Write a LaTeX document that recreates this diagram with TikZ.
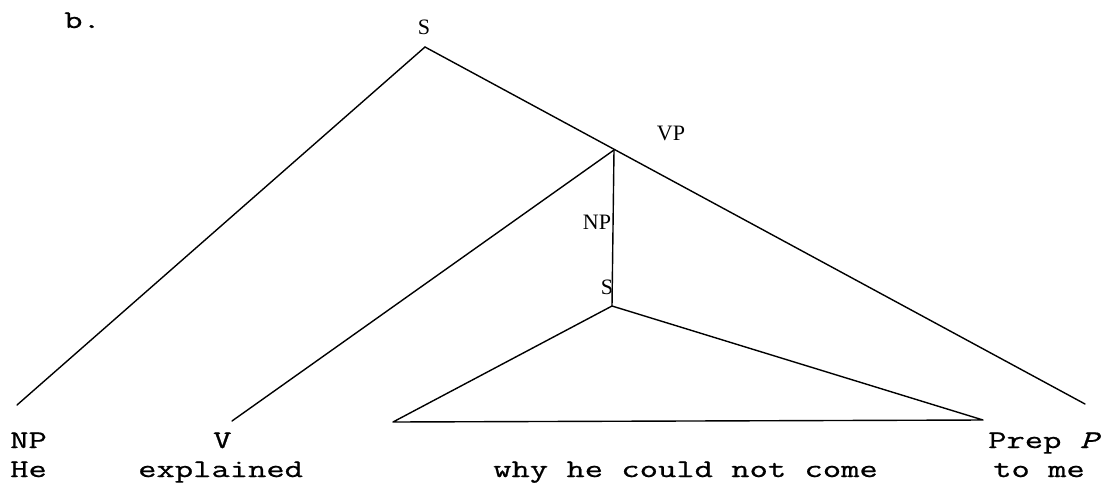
\documentclass[tikz,border=0pt]{standalone}
\usepackage{fontspec}
\setmainfont{Liberation Serif}
\newfontfamily\tw[FakeStretch=1.4,FakeBold=0.8]{Latin Modern Mono}
\begin{document}
\begin{tikzpicture}[x=1pt,y=-1pt,
  edge/.style={line width=1.4pt, line cap=round, line join=round},
  cat/.style={font=\fontsize{22}{22}\selectfont, inner sep=0pt},
  tw/.style={font=\tw\fontsize{25.4}{25.4}\selectfont, inner sep=0pt, anchor=base west}]
\useasboundingbox (0,0) rectangle (1102,501);
% branching points
\coordinate (S) at (425,47);
\coordinate (VP) at (614,150);
\coordinate (S2) at (612,306);
\coordinate (NPend) at (17,405);
\coordinate (Vend) at (232,421);
\coordinate (Tl) at (393,422);
\coordinate (Tr) at (983,420);
\coordinate (PPend) at (1085,404);
% category labels
\node[tw] (b) at (64,28) {b.};
\node[cat] (lS) at (424,27) {S};
\node[cat] (lVP) at (671,133) {VP};
\node[cat] (lNP) at (597,222) {NP};
\node[cat] (lS2) at (607,287) {S};
% edges
\draw[edge] (S) -- (NPend);
\draw[edge] (S) -- (PPend);
\draw[edge] (VP) -- (Vend);
\draw[edge] (VP) -- (S2);
\draw[edge] (S2) -- (Tl) -- (Tr) -- cycle;
% terminal rows
\node[tw] (tNP) at (10,448) {NP};
\node[tw] (tV) at (213,448) {V};
\node[tw] (tPP) at (988,448) {Prep \textit{P}};
\node[tw] (wHe) at (10,477) {He};
\node[tw] (wExp) at (138,477) {explained};
\node[tw] (wWhy) at (493,477) {why he could not come};
\node[tw] (wTo) at (993,477) {to me};
\end{tikzpicture}
\end{document}
